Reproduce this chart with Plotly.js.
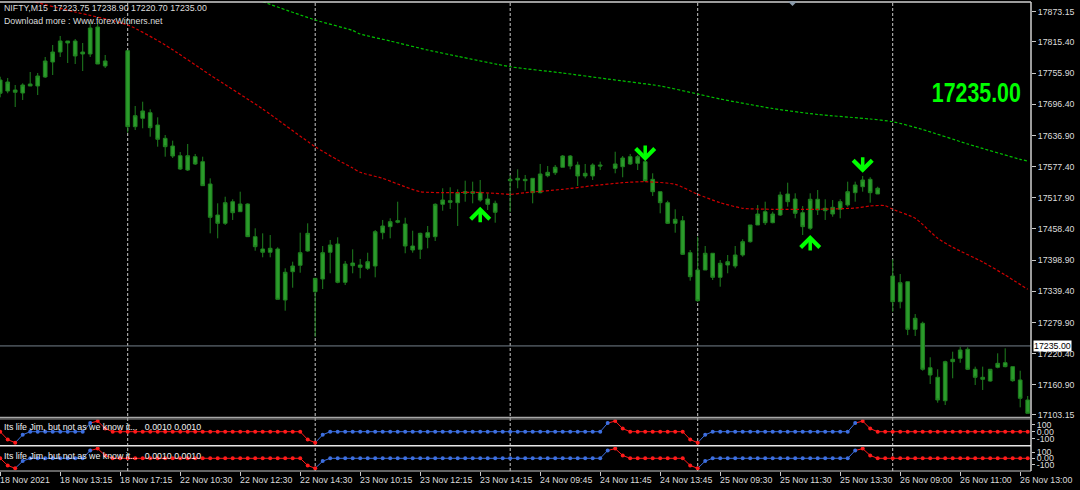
<!DOCTYPE html>
<html><head><meta charset="utf-8">
<script src="https://cdn.plot.ly/plotly-3.0.1.min.js"></script>
<style>html,body{margin:0;padding:0;background:#000;}#chart{width:1080px;height:490px;}</style>
</head><body><div id="chart"></div>
<script>
// ---------------- data ----------------
const symbolText = 'NIFTY,M15\u00a0\u00a017223.75 17238.90 17220.70 17235.00';
const sourceText = 'Download more : Www.forexWinners.net';
const indicatorText = 'Its life Jim, but not as we know it...\u00a0\u00a0 0.0010 0.0010';
const bigPriceText = '17235.00';
const bidPrice = 17235.00;

const dayStartIdx = [17, 42, 68, 93, 119];

const timeTickIdx = [0, 8, 16, 24, 32, 40, 48, 56, 64, 72, 80, 88, 96, 104, 112, 120, 128, 136];
const timeTickLabels = ['18 Nov 2021', '18 Nov 13:15', '18 Nov 17:15', '22 Nov 10:30', '22 Nov 12:30', '22 Nov 14:30',
  '23 Nov 10:15', '23 Nov 12:15', '23 Nov 14:15', '24 Nov 09:45', '24 Nov 11:45', '24 Nov 13:45',
  '25 Nov 09:30', '25 Nov 11:30', '25 Nov 13:30', '26 Nov 09:00', '26 Nov 11:00', '26 Nov 13:00'];

const priceTicks = [17873.15, 17815.40, 17755.90, 17696.40, 17636.90, 17577.40, 17517.90, 17458.40, 17398.90, 17339.40, 17279.90, 17220.40, 17160.90, 17103.15];
const priceTickText = ['17873.15', '17815.40', '17755.90', '17696.40', '17636.90', '17577.40', '17517.90', '17458.40', '17398.90', '17339.40', '17279.90', '17220.40', '17160.90', '17103.15'];

const indTicks = [100, 0, -100];
const indTickText = ['100', '0.00', '-100'];

// OHLC per 15-minute bar (index 0..137); null = no candle drawn
const open = [
 17742.7,17721.7,17723.6,17717.9,17731.3,17731.3,17748.5,17777.1,17796.2,17817.2,
 17817.2,17792.4,17792.4,17843.9,17769.5,null,null,17798.7,17653.6,17669.6,
 17680.3,17656.8,17631.4,17616.7,17598.2,17570.9,17596.3,17586.8,17544.2,17485.0,
 17469.1,17510.4,17491.3,17506.0,17443.6,17420.1,17413.8,17420.1,17322.7,17376.7,
 17388.9,17416.3,17338.5,17362.8,17413.8,17429.6,17356.5,17393.3,17389.5,17383.2,
 17387.6,17451.2,17462.7,17471.1,17467.8,17425.8,17419.5,17451.2,17443.6,17505.4,
 17512.3,17508.5,17526.4,17529.5,17528.3,17515.5,17507.3,null,17550.5,17551.8,
 17553.1,17555.0,17527.6,17560.0,17565.7,17576.1,17597.6,17580.5,17559.5,17559.5,
 17580.5,null,17574.1,17577.2,17596.3,17583.7,17586.8,17553.1,17529.5,17508.5,
 17469.1,17474.1,17413.0,17380.0,17380.0,17411.9,17366.0,17389.5,17387.6,17408.6,
 17434.0,17465.9,17491.3,17470.3,17485.0,17525.1,17515.5,17489.4,17459.6,17515.0,
 17493.2,17499.7,17495.9,17504.1,17527.6,17539.0,17553.1,17525.1,null,17368.5,
 17319.4,17357.6,17266.7,17278.2,17193.4,17175.1,17130.4,17204.9,17211.4,17228.6,
 17190.4,17175.1,17168.0,17194.2,17203.0,17195.4,17170.0,17131.8];
const high = [
 17749.0,17746.6,17733.2,17736.4,17758.0,17756.1,17786.7,17809.6,17826.8,17817.2,
 17821.0,17813.4,17851.6,17851.6,17790.5,null,null,17798.7,17693.1,17701.3,
 17686.8,17671.5,17637.7,17626.9,17605.3,17620.6,17601.5,17596.3,17555.0,17507.3,
 17519.9,17515.0,17529.5,17507.3,17459.6,17450.0,17446.8,17423.3,17383.2,17395.8,
 17451.2,17469.1,17364.1,17425.8,17437.3,17442.4,17397.2,17419.5,17401.0,17413.0,
 17456.3,17475.5,17478.7,17510.4,17479.8,17455.0,17451.2,17464.0,17507.3,17536.0,
 17537.9,17534.0,17550.5,17548.6,17551.8,17526.4,17512.3,null,17561.4,17572.2,
 17561.4,17555.0,17582.4,17578.5,17580.5,17599.5,17599.5,17586.8,17582.4,17583.7,
 17586.8,null,17605.8,17597.6,17601.5,17599.5,17605.3,17564.6,17529.5,17512.3,
 17495.9,17483.1,17418.2,17443.6,17425.8,17411.9,17399.1,17408.6,17425.8,17438.6,
 17465.9,17504.1,17510.4,17491.3,17529.5,17546.7,17526.4,17502.2,17526.4,17532.7,
 17515.0,17513.6,17515.0,17548.6,17548.6,17559.5,17557.0,17539.0,null,17400.4,
 17372.3,17357.6,17295.9,17281.3,17213.3,17190.4,17206.8,17224.0,17233.5,17232.4,
 17195.4,17195.4,17190.4,17220.9,17230.5,17195.4,17187.7,17139.4];
const low = [
 17709.7,17717.4,17691.2,17704.6,17731.3,17714.1,17746.6,17752.3,17786.7,17775.2,
 17773.3,17759.9,17786.7,17773.3,17765.6,null,null,17642.1,17647.3,17650.5,
 17634.5,17615.4,17596.3,17593.8,17570.9,17569.0,17580.5,17540.4,17450.0,17440.5,
 17465.9,17475.5,17491.3,17443.6,17416.8,17404.2,17404.2,17324.0,17302.3,17346.2,
 17374.8,17414.9,17252.6,17343.7,17373.7,17354.6,17351.3,17373.7,17364.1,17380.0,
 17366.0,17438.6,17440.5,17469.1,17411.9,17413.0,17401.0,17421.4,17435.3,17493.2,
 17496.5,17464.0,17510.4,17507.3,17510.4,17494.6,17470.3,null,17490.7,17536.0,
 17531.4,17507.3,17526.4,17557.0,17561.4,17576.1,17572.2,17540.4,17555.0,17551.8,
 17570.9,null,17564.6,17557.0,17580.5,17570.9,17548.6,17521.3,17488.2,17467.8,
 17451.2,17408.6,17359.5,17319.4,17380.0,17360.9,17348.1,17373.7,17383.2,17405.4,
 17432.1,17465.9,17465.9,17469.1,17483.1,17500.8,17478.7,17446.8,17456.3,17485.0,
 17475.5,17481.7,17478.7,17500.8,17510.4,17529.5,17508.5,17525.1,null,17300.4,
 17306.8,17255.6,17254.0,17187.7,17162.3,17126.6,17122.2,17173.2,17202.9,17189.0,
 17160.4,17150.9,17166.7,17192.3,17194.2,17166.7,17117.8,17106.4];
const close = [
 17717.4,17738.9,17719.3,17733.2,17735.1,17750.4,17779.0,17796.2,17817.2,17813.4,
 17788.6,17796.2,17842.0,17773.3,17779.0,null,null,17653.6,17674.6,17683.6,
 17651.7,17629.5,17615.4,17597.6,17572.8,17598.2,17582.4,17541.0,17480.6,17469.1,
 17508.5,17489.4,17506.0,17443.6,17424.5,17413.8,17421.4,17324.0,17375.6,17387.6,
 17413.0,17450.0,17364.1,17413.0,17427.7,17356.5,17391.4,17388.2,17385.1,17395.8,
 17453.1,17464.0,17472.2,17474.1,17425.8,17418.2,17450.0,17442.4,17505.4,17513.6,
 17509.2,17527.6,17529.5,17526.4,17513.6,17505.4,17490.2,null,17553.1,17555.0,
 17550.5,17527.6,17563.3,17566.5,17576.1,17597.6,17578.5,17559.5,17564.6,17580.5,
 17578.5,null,17582.4,17593.8,17582.4,17596.3,17550.5,17529.5,17508.5,17469.1,
 17476.8,17409.9,17367.2,17321.4,17411.9,17366.0,17392.8,17395.8,17408.6,17434.0,
 17465.9,17486.9,17470.3,17486.9,17523.2,17510.4,17488.2,17462.7,17515.0,17494.6,
 17497.8,17486.9,17510.4,17529.5,17542.3,17551.8,17527.6,17536.0,null,17319.4,
 17355.7,17266.7,17287.8,17190.4,17179.5,17131.8,17204.9,17209.5,17227.2,17190.4,
 17175.1,17171.3,17190.4,17201.8,17195.4,17168.6,17135.0,17106.4];

// moving averages (bar index, value)
const redMaIdx = [4,10,17,22,28,35,42,45,47,48,51,53,56,60,63,66,68,70,75,79,83,86,90,93,96,99,103,109,114,116,118,119,122,125,127,131,134,137];
const redMaVal = [17893.6,17872.6,17847.8,17809.6,17752.3,17687.4,17615.4,17590.0,17574.7,17566.5,17555.0,17544.2,17529.5,17527.6,17528.3,17526.4,17524.5,17527.6,17534.0,17540.9,17546.7,17548.6,17543.6,17524.5,17508.5,17497.8,17495.9,17495.9,17498.3,17502.2,17502.8,17495.9,17478.7,17440.5,17423.3,17395.3,17370.4,17343.1];
const greenMaIdx = [35,42,47,48,52,57,61,68,75,81,88,93,96,103,109,116,119,123,129,136,137];
const greenMaVal = [17892.2,17857.3,17837.3,17830.6,17817.2,17800.0,17788.0,17768.1,17756.1,17744.6,17731.3,17716.0,17706.5,17688.3,17676.9,17668.3,17663.1,17648.2,17620.6,17591.3,17588.1];

// signal arrows (tip price)
const arrowUpIdx = [64, 108];
const arrowUpPrice = [17500.8, 17446.8];
const arrowDownIdx = [86, 115];
const arrowDownPrice = [17588.1, 17565.7];

// oscillator ("Its life Jim...") value and state per bar: r = falling (red), b = rising (blue)
const indVal = [
 0,-115,-160,-45,0,0,0,0,0,0,
 0,0,125,155,45,0,0,0,0,0,
 0,0,0,0,0,0,0,0,0,0,
 0,0,0,0,0,0,0,0,0,0,
 0,-115,-160,-45,0,0,0,0,0,0,
 0,0,0,0,0,0,0,0,0,0,
 0,0,0,0,0,0,0,0,0,0,
 0,0,0,0,0,0,0,0,0,0,
 0,125,155,45,0,0,0,0,0,0,
 0,0,-115,-160,-45,0,0,0,0,0,
 0,0,0,0,0,0,0,0,0,0,
 0,0,0,0,125,155,45,0,0,0,
 0,0,0,0,0,0,0,0,0,0,
 0,0,0,0,0,0,0,0];
const indState = [
 'r','r','r','b','b','b','b','b','b','b',
 'b','b','b','r','r','r','r','r','r','r',
 'r','r','r','r','r','r','r','r','r','r',
 'r','r','r','r','r','r','r','r','r','r',
 'r','r','r','b','b','b','b','b','b','b',
 'b','b','b','b','b','b','b','b','b','b',
 'b','b','b','b','b','b','b','b','b','b',
 'b','b','b','b','b','b','b','b','b','b',
 'b','b','r','r','r','r','r','r','r','r',
 'r','r','r','r','b','b','b','b','b','b',
 'b','b','b','b','b','b','b','b','b','b',
 'b','b','b','b','b','r','r','r','r','r',
 'r','r','r','r','r','r','r','r','r','r',
 'r','r','r','r','r','r','r','r'];

// ---------------- drawing ----------------
const FONT = 'Liberation Sans, Arial, sans-serif';
const TXT = '#dcdcdc';
const PLOT_TOP = 2, PLOT_BOTTOM = 471, PLOT_H = PLOT_BOTTOM - PLOT_TOP;
const py = px => (PLOT_BOTTOM - px) / PLOT_H;   // pixel row -> paper y
const BAR0 = 0.2, BAR_W = 7.5, PLOT_RIGHT = 1031;
const xRange = [(0 - BAR0) / BAR_W, (PLOT_RIGHT - BAR0) / BAR_W];

const barIdx = open.map((_, i) => i);
const keep = barIdx.filter(i => open[i] !== null);
const candle = {
  type: 'candlestick', xaxis: 'x', yaxis: 'y',
  x: keep, open: keep.map(i => open[i]), high: keep.map(i => high[i]),
  low: keep.map(i => low[i]), close: keep.map(i => close[i]),
  increasing: {line: {color: '#1f801f', width: 1}, fillcolor: '#2b9b2b'},
  decreasing: {line: {color: '#1f801f', width: 1}, fillcolor: '#2b9b2b'},
  whiskerwidth: 0, hoverinfo: 'skip', showlegend: false
};
const redMa = {type: 'scatter', mode: 'lines', x: redMaIdx, y: redMaVal, xaxis: 'x', yaxis: 'y',
  line: {color: '#d00000', width: 1.2, dash: '3px,2px', shape: 'spline', smoothing: 0.6}, hoverinfo: 'skip', showlegend: false};
const greenMa = {type: 'scatter', mode: 'lines', x: greenMaIdx, y: greenMaVal, xaxis: 'x', yaxis: 'y',
  line: {color: '#00c000', width: 1.2, dash: '3px,2px', shape: 'spline', smoothing: 0.6}, hoverinfo: 'skip', showlegend: false};

const RED = '#ff1a1a', BLUE = '#3d6fe0';
function indTraces(yaxis) {
  const out = [];
  [['r', RED], ['b', BLUE]].forEach(([st, col]) => {
    const y = indVal.map((v, i) => (indState[i] === st || indState[i + 1] === st) ? v : null);
    out.push({type: 'scatter', mode: 'lines', x: barIdx, y: y, xaxis: 'x', yaxis: yaxis,
      line: {color: col, width: 1}, connectgaps: false, hoverinfo: 'skip', showlegend: false});
  });
  out.push({type: 'scatter', mode: 'markers', x: barIdx, y: indVal, xaxis: 'x', yaxis: yaxis,
    marker: {size: 4, symbol: 'circle', color: indState.map(s => s === 'r' ? RED : BLUE), line: {width: 0}},
    hoverinfo: 'skip', showlegend: false});
  return out;
}

const data = [candle, redMa, greenMa, ...indTraces('y2'), ...indTraces('y3')];

const shapes = [];
dayStartIdx.forEach(i => shapes.push({type: 'line', xref: 'x', yref: 'paper', x0: i, x1: i, y0: 0, y1: 1,
  line: {color: '#c8c8c8', width: 1, dash: '3px,2px'}, layer: 'below'}));
shapes.push({type: 'line', xref: 'paper', yref: 'y', x0: 0, x1: 1, y0: bidPrice, y1: bidPrice,
  line: {color: '#75808c', width: 1}, layer: 'below'});
shapes.push({type: 'line', xref: 'paper', yref: 'paper', x0: 0, x1: 1, y0: 1, y1: 1, line: {color: '#d0d0d0', width: 1.5}});
shapes.push({type: 'line', xref: 'paper', yref: 'paper', x0: 1, x1: 1, y0: 0, y1: 1, line: {color: '#d0d0d0', width: 1.5}});
shapes.push({type: 'line', xref: 'paper', yref: 'paper', x0: 0, x1: 1, y0: py(417.5), y1: py(417.5), line: {color: '#a8a8a8', width: 1.5}});
shapes.push({type: 'line', xref: 'paper', yref: 'paper', x0: 0, x1: 1, y0: py(419), y1: py(419), line: {color: '#909090', width: 1}});
shapes.push({type: 'line', xref: 'paper', yref: 'paper', x0: 0, x1: 1, y0: py(445.8), y1: py(445.8), line: {color: '#e8e8e8', width: 1.5}});
shapes.push({type: 'line', xref: 'paper', yref: 'paper', x0: 0, x1: 1, y0: 0, y1: 0, line: {color: '#c8c8c8', width: 1}});
shapes.push({type: 'path', xref: 'paper', yref: 'paper',
  path: `M ${788/PLOT_RIGHT},${py(1.5)} L ${797/PLOT_RIGHT},${py(1.5)} L ${792.5/PLOT_RIGHT},${py(6)} Z`,
  fillcolor: '#8a9aaa', line: {width: 0}});

const annotations = [];
annotations.push({xref: 'paper', yref: 'paper', x: 4 / PLOT_RIGHT, y: py(8.5), xanchor: 'left', yanchor: 'middle', xshift: -2,
  text: symbolText, showarrow: false, font: {family: FONT, size: 8.8, color: TXT}});
annotations.push({xref: 'paper', yref: 'paper', x: 4 / PLOT_RIGHT, y: py(21), xanchor: 'left', yanchor: 'middle', xshift: -2,
  text: sourceText, showarrow: false, font: {family: FONT, size: 8.8, color: TXT}});
annotations.push({xref: 'paper', yref: 'paper', x: 976.5 / PLOT_RIGHT, y: py(93.5), xanchor: 'center', yanchor: 'middle',
  text: '<b>' + bigPriceText + '</b>', showarrow: false,
  font: {family: FONT, size: 27, color: '#00ff00'}});
annotations.push({xref: 'paper', yref: 'y', x: 1, y: bidPrice, xanchor: 'left', yanchor: 'middle', xshift: 2,
  text: bidPrice.toFixed(2), showarrow: false, bgcolor: '#ffffff', borderpad: 0,
  font: {family: FONT, size: 8.8, color: '#000000'}});
[427.5, 456].forEach(yy => annotations.push({xref: 'paper', yref: 'paper', x: 4 / PLOT_RIGHT, y: py(yy), xshift: -2,
  xanchor: 'left', yanchor: 'middle', text: indicatorText, showarrow: false, font: {family: FONT, size: 8.8, color: '#f0f0f0'}}));
timeTickIdx.forEach((t, k) => annotations.push({xref: 'x', yref: 'paper', x: t, y: py(479.5), xanchor: 'left', yanchor: 'middle',
  xshift: -2, text: timeTickLabels[k], showarrow: false, font: {family: FONT, size: 8.8, color: TXT}}));
arrowUpIdx.forEach((t, k) => annotations.push({xref: 'x', yref: 'y', x: t, y: arrowUpPrice[k], text: '', showarrow: true,
  arrowhead: 4, arrowsize: 1.05, arrowwidth: 3.5, arrowcolor: '#00ff00', ax: 0, ay: 17, standoff: 0}));
arrowDownIdx.forEach((t, k) => annotations.push({xref: 'x', yref: 'y', x: t, y: arrowDownPrice[k], text: '', showarrow: true,
  arrowhead: 4, arrowsize: 1.05, arrowwidth: 3.5, arrowcolor: '#00ff00', ax: 0, ay: -17, standoff: 0}));

const axFont = {family: FONT, size: 8.8, color: TXT};
const layout = {
  width: 1080, height: 490,
  paper_bgcolor: '#000000', plot_bgcolor: '#000000',
  margin: {l: 0, r: 1080 - PLOT_RIGHT, t: PLOT_TOP, b: 490 - PLOT_BOTTOM, pad: 0},
  showlegend: false, hovermode: false,
  xaxis: {type: 'linear', range: xRange, domain: [0, 1], anchor: 'y3', rangeslider: {visible: false},
    showgrid: false, zeroline: false, showline: false, ticks: 'outside', ticklen: 4, tickwidth: 1, tickcolor: '#c8c8c8',
    tickmode: 'array', tickvals: timeTickIdx, showticklabels: false, fixedrange: true},
  yaxis: {domain: [py(416.5), 1], range: [17895.49 - 1.9093 * 416.5, 17895.49 - 1.9093 * PLOT_TOP], side: 'right', anchor: 'x',
    showgrid: false, zeroline: false, showline: false, ticks: 'outside', ticklen: 4, tickcolor: '#c8c8c8',
    tickmode: 'array', tickvals: priceTicks, ticktext: priceTickText, tickfont: axFont, fixedrange: true},
  yaxis2: {domain: [py(445), py(419.5)], range: [-193.5, 177.5], side: 'right', anchor: 'x',
    showgrid: false, zeroline: false, showline: false, ticks: 'outside', ticklen: 3, tickcolor: '#c8c8c8',
    tickmode: 'array', tickvals: indTicks, ticktext: indTickText, tickfont: axFont, fixedrange: true},
  yaxis3: {domain: [0, py(447)], range: [-203.2, 180.8], side: 'right', anchor: 'x',
    showgrid: false, zeroline: false, showline: false, ticks: 'outside', ticklen: 3, tickcolor: '#c8c8c8',
    tickmode: 'array', tickvals: indTicks, ticktext: indTickText, tickfont: axFont, fixedrange: true},
  shapes: shapes,
  annotations: annotations
};

Plotly.newPlot('chart', data, layout, {staticPlot: true, displayModeBar: false}).then(gd => {
  // the reference's big price label uses a condensed bold face: fit that one label to its narrower width
  gd.querySelectorAll('text.annotation-text').forEach(t => {
    if (t.textContent === bigPriceText && parseFloat(t.style.fontSize) > 20) {
      t.setAttribute('textLength', '89');
      t.setAttribute('lengthAdjust', 'spacingAndGlyphs');
    }
  });
});
</script>
</body></html>
